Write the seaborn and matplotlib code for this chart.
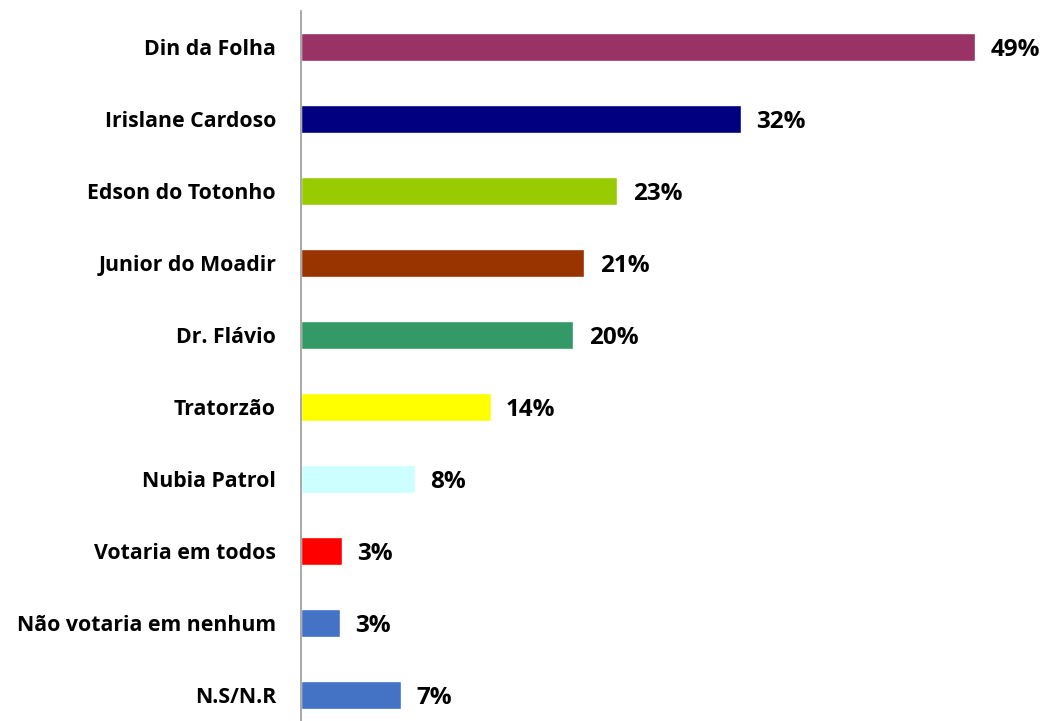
import matplotlib
matplotlib.use("Agg")
import matplotlib.pyplot as plt
import seaborn as sns
import pandas as pd

categories = ["Din da Folha", "Irislane Cardoso", "Edson do Totonho", "Junior do Moadir",
              "Dr. Flávio", "Tratorzão", "Nubia Patrol", "Votaria em todos",
              "Não votaria em nenhum", "N.S/N.R"]
# bar lengths (labels are rounded)
values = [49.0, 32.0, 23.0, 20.6, 19.8, 13.8, 8.3, 3.0, 2.8, 7.3]
labels = ["49%", "32%", "23%", "21%", "20%", "14%", "8%", "3%", "3%", "7%"]
colors = ["#993366", "#000080", "#99CC00", "#993300", "#339966",
          "#FFFF00", "#CCFFFF", "#FF0000", "#4472C4", "#4472C4"]

sns.set_style("white")
plt.rcParams['font.family'] = ['Open Sans', 'DejaVu Sans']

df = pd.DataFrame({'Categoria': categories, 'Valor': values})

fig = plt.figure(figsize=(10.43, 7.21), dpi=100)
ax = fig.add_axes([301 / 1043, -10 / 721, 742 / 1043, 720 / 721])

sns.barplot(data=df, x='Valor', y='Categoria', hue='Categoria', palette=colors,
            legend=False, width=0.39, saturation=1, ax=ax)

ax.set_xlim(0, 742 / 13.76)
ax.set_ylim(9.5, -0.5)
ax.set_xlabel('')
ax.set_ylabel('')
ax.set_xticks([])
ax.tick_params(axis='y', length=0, pad=18, labelcolor='black')
for lbl in ax.get_yticklabels():
    lbl.set_fontweight('bold')
    lbl.set_fontsize(15.3)

for s in ['top', 'right', 'bottom']:
    ax.spines[s].set_visible(False)
ax.spines['left'].set_color('#999999')
ax.spines['left'].set_linewidth(1.2)

for i, (v, t) in enumerate(zip(values, labels)):
    ax.text(v + 1.1, i + 0.04, t, va='center', ha='left',
            fontsize=17.5, fontweight='bold', color='black')

fig.savefig('out.png', dpi=100)
